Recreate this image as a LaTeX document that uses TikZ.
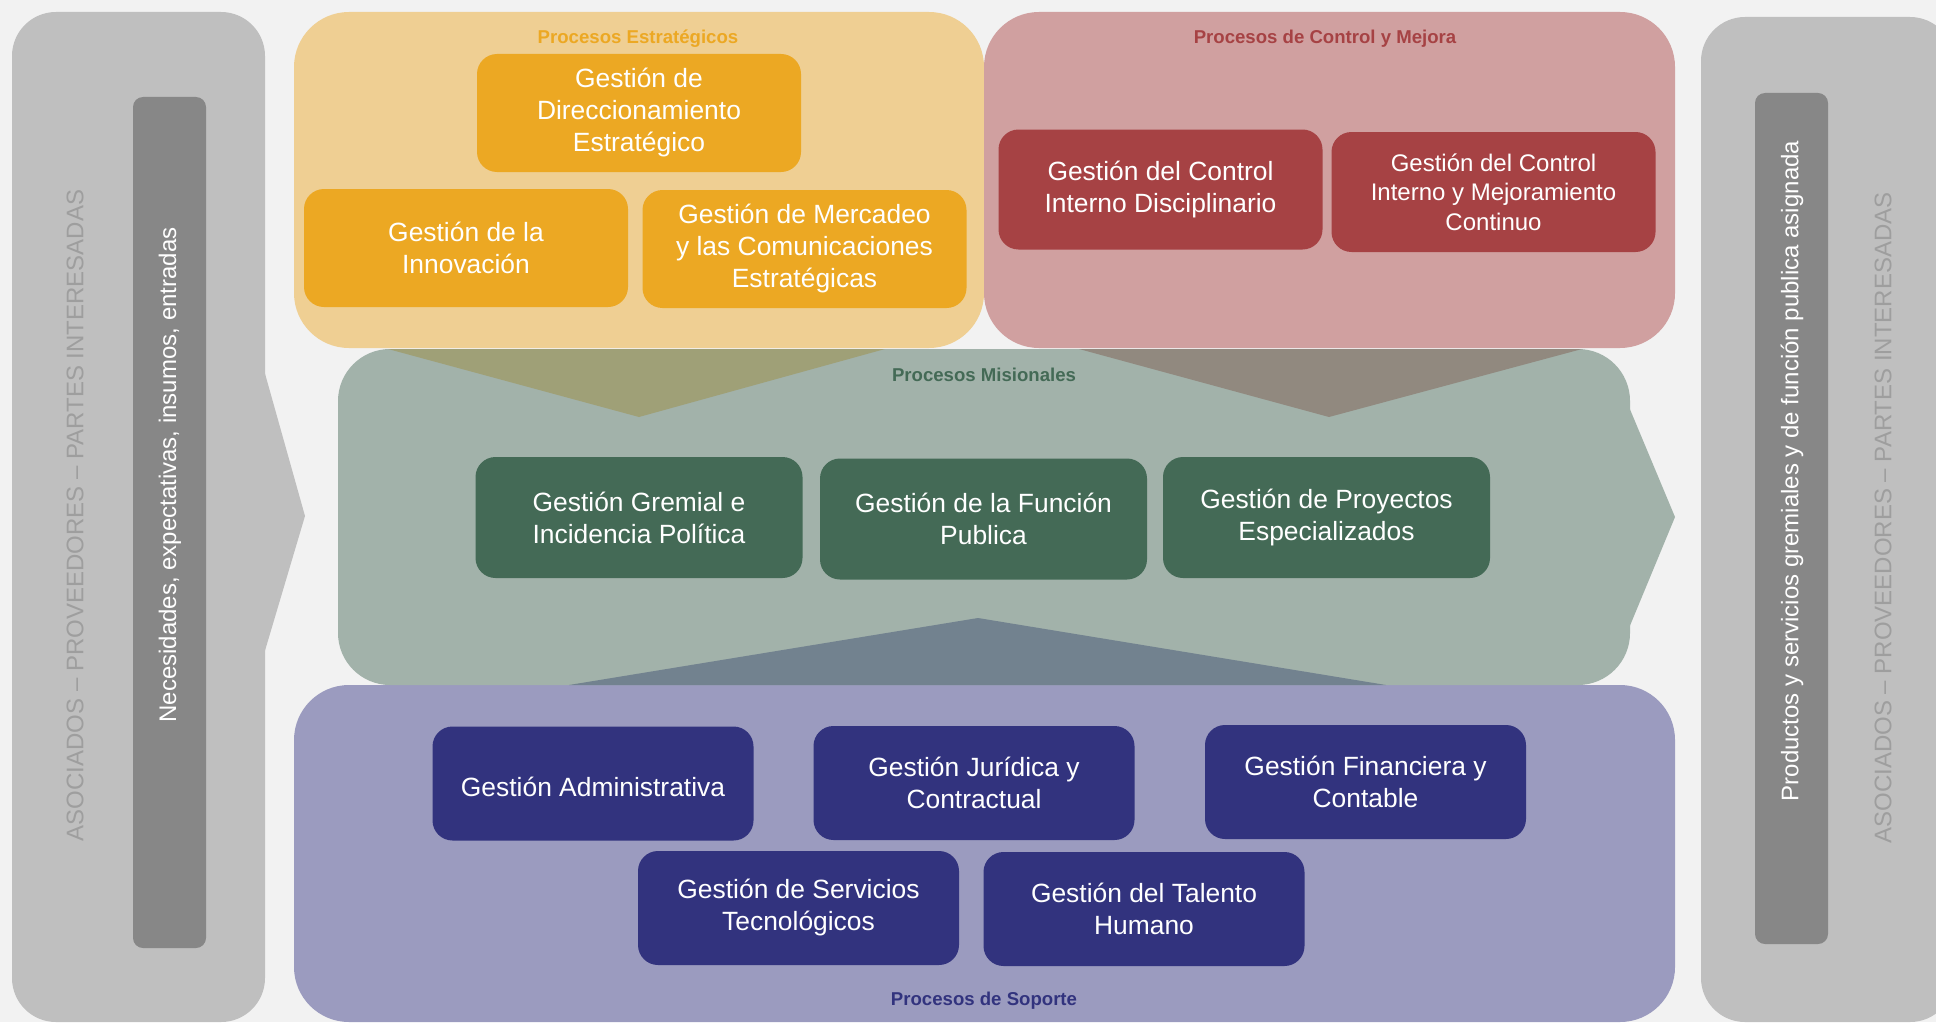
\documentclass[tikz,border=0pt]{standalone}
\usepackage{fontspec}
\setmainfont{Liberation Sans}
\usetikzlibrary{positioning}

\definecolor{fondo}{HTML}{F2F2F2}
\definecolor{gris}{HTML}{BFBFBF}
\definecolor{barra}{HTML}{878787}
\definecolor{grislet}{HTML}{9E9E9E}
\definecolor{estsuave}{HTML}{EFCF93}
\definecolor{estfuerte}{HTML}{ECA823}
\definecolor{ctrlsuave}{HTML}{D0A0A0}
\definecolor{ctrlfuerte}{HTML}{A64244}
\definecolor{missuave}{HTML}{A2B2AA}
\definecolor{misfuerte}{HTML}{446A56}
\definecolor{sopsuave}{HTML}{9B9BBF}
\definecolor{sopfuerte}{HTML}{32337E}
\definecolor{olivo}{HTML}{9FA077}
\definecolor{taupe}{HTML}{91897F}
\definecolor{pizarra}{HTML}{72828F}

\tikzset{
  caja/.style={rounded corners=10pt, inner sep=0pt, align=center, text=white,
    font=\fontsize{13.2}{16}\selectfont,
    execute at begin node={\rule{0pt}{12.7pt}}},
  estbox/.style={caja, fill=estfuerte, minimum width=162pt, minimum height=59pt},
  ctrlbox/.style={caja, fill=ctrlfuerte, minimum width=162pt, minimum height=60pt},
  misbox/.style={caja, fill=misfuerte, minimum width=163.5pt, minimum height=60.5pt},
  sopbox/.style={caja, fill=sopfuerte, minimum width=160.5pt, minimum height=57pt},
  titulo/.style={font=\fontsize{9.3}{11}\selectfont\bfseries},
  lateral/.style={rotate=90, font=\fontsize{12}{14}\selectfont},
  barrabox/.style={fill=barra, rounded corners=5pt, inner sep=0pt,
    minimum width=36.5pt, minimum height=425.5pt}
}

\begin{document}
\begin{tikzpicture}[x=0.5pt,y=-0.5pt]
	\useasboundingbox (0,0) rectangle (1936,1022);
	\clip (0,0) rectangle (1936,1022);
	\fill[fondo] (0,0) rectangle (1936,1022);

	% paneles laterales
	\fill[gris, rounded corners=22pt] (12,12) rectangle (265,1022);
	\fill[gris] (264,370) -- (305,516) -- (264,654) -- cycle;
	\fill[gris, rounded corners=22pt] (1701,17) rectangle (1954,1022);

	\node[barrabox] (barraizq) at (169.5,522.5) {};
	\node[barrabox] (barrader) at (1791.5,518.5) {};
	\node[lateral, text=white] (entradas) at (170,475) {Necesidades, expectativas, insumos, entradas};
	\node[lateral, text=white] (salidas) at (1792,471) {Productos y servicios gremiales y de función publica asignada};
	\node[lateral, text=grislet] (partesizq) at (75,515.5) {ASOCIADOS -- PROVEEDORES -- PARTES INTERESADAS};
	\node[lateral, text=grislet] (partesder) at (1883,518) {ASOCIADOS -- PROVEEDORES -- PARTES INTERESADAS};

	% paneles de procesos
	\fill[estsuave, rounded corners=27.5pt] (294,12) rectangle (984,348);
	\fill[ctrlsuave, rounded corners=27.5pt] (984,12) rectangle (1675,348);
	\fill[sopsuave, rounded corners=27.5pt] (294,685) rectangle (1675,1022);
	\fill[missuave, rounded corners=26pt] (338,349) rectangle (1630,685);
	\fill[missuave] (1629,407) -- (1675,517) -- (1629,628) -- cycle;

	% flechas entre paneles
	\fill[olivo] (388,349) -- (639,417) -- (885,349) -- cycle;
	\fill[taupe] (1079,349) -- (1329,417) -- (1582,349) -- cycle;
	\fill[pizarra] (569,685) -- (978,618) -- (1386,685) -- cycle;

	% titulos
	\node[titulo, text=estfuerte] (testr) at (638,39) {Procesos Estratégicos};
	\node[titulo, text=ctrlfuerte] (tctrl) at (1325,39) {Procesos de Control y Mejora};
	\node[titulo, text=misfuerte] (tmis) at (984,374.5) {Procesos Misionales};
	\node[titulo, text=sopfuerte] (tsop) at (984,1000.5) {Procesos de Soporte};

	% procesos estrategicos
	\node[estbox] (direccion) at (639,113) {Gestión de\\Direccionamiento\\Estratégico};
	\node[estbox] (innovacion) at (466,248) {Gestión de la\\Innovación};
	\node[estbox] (mercadeo) at (804.5,249) {Gestión de Mercadeo\\y las Comunicaciones\\Estratégicas};

	% control y mejora
	\node[ctrlbox] (disciplina) at (1160.5,189.5) {Gestión del Control\\Interno Disciplinario};
	\node[ctrlbox, font=\fontsize{12}{14.75}\selectfont, execute at begin node={\rule{0pt}{10pt}}] (mejora) at (1493.5,192) {Gestión del Control\\Interno y Mejoramiento\\Continuo};

	% misionales
	\node[misbox] (gremial) at (639,517.5) {Gestión Gremial e\\Incidencia Política};
	\node[misbox] (funcion) at (983.5,519) {Gestión de la Función\\Publica};
	\node[misbox] (proyectos) at (1326.5,517.5) {Gestión de Proyectos\\Especializados};

	% soporte
	\node[sopbox] (admin) at (593,783.5) {Gestión Administrativa};
	\node[sopbox] (juridica) at (974,783) {Gestión Jurídica y\\Contractual};
	\node[sopbox] (financiera) at (1365.5,782) {Gestión Financiera y\\Contable};
	\node[sopbox] (servicios) at (798.5,908) {Gestión de Servicios\\Tecnológicos};
	\node[sopbox] (talento) at (1144,909) {Gestión del Talento\\Humano};
\end{tikzpicture}
\end{document}
